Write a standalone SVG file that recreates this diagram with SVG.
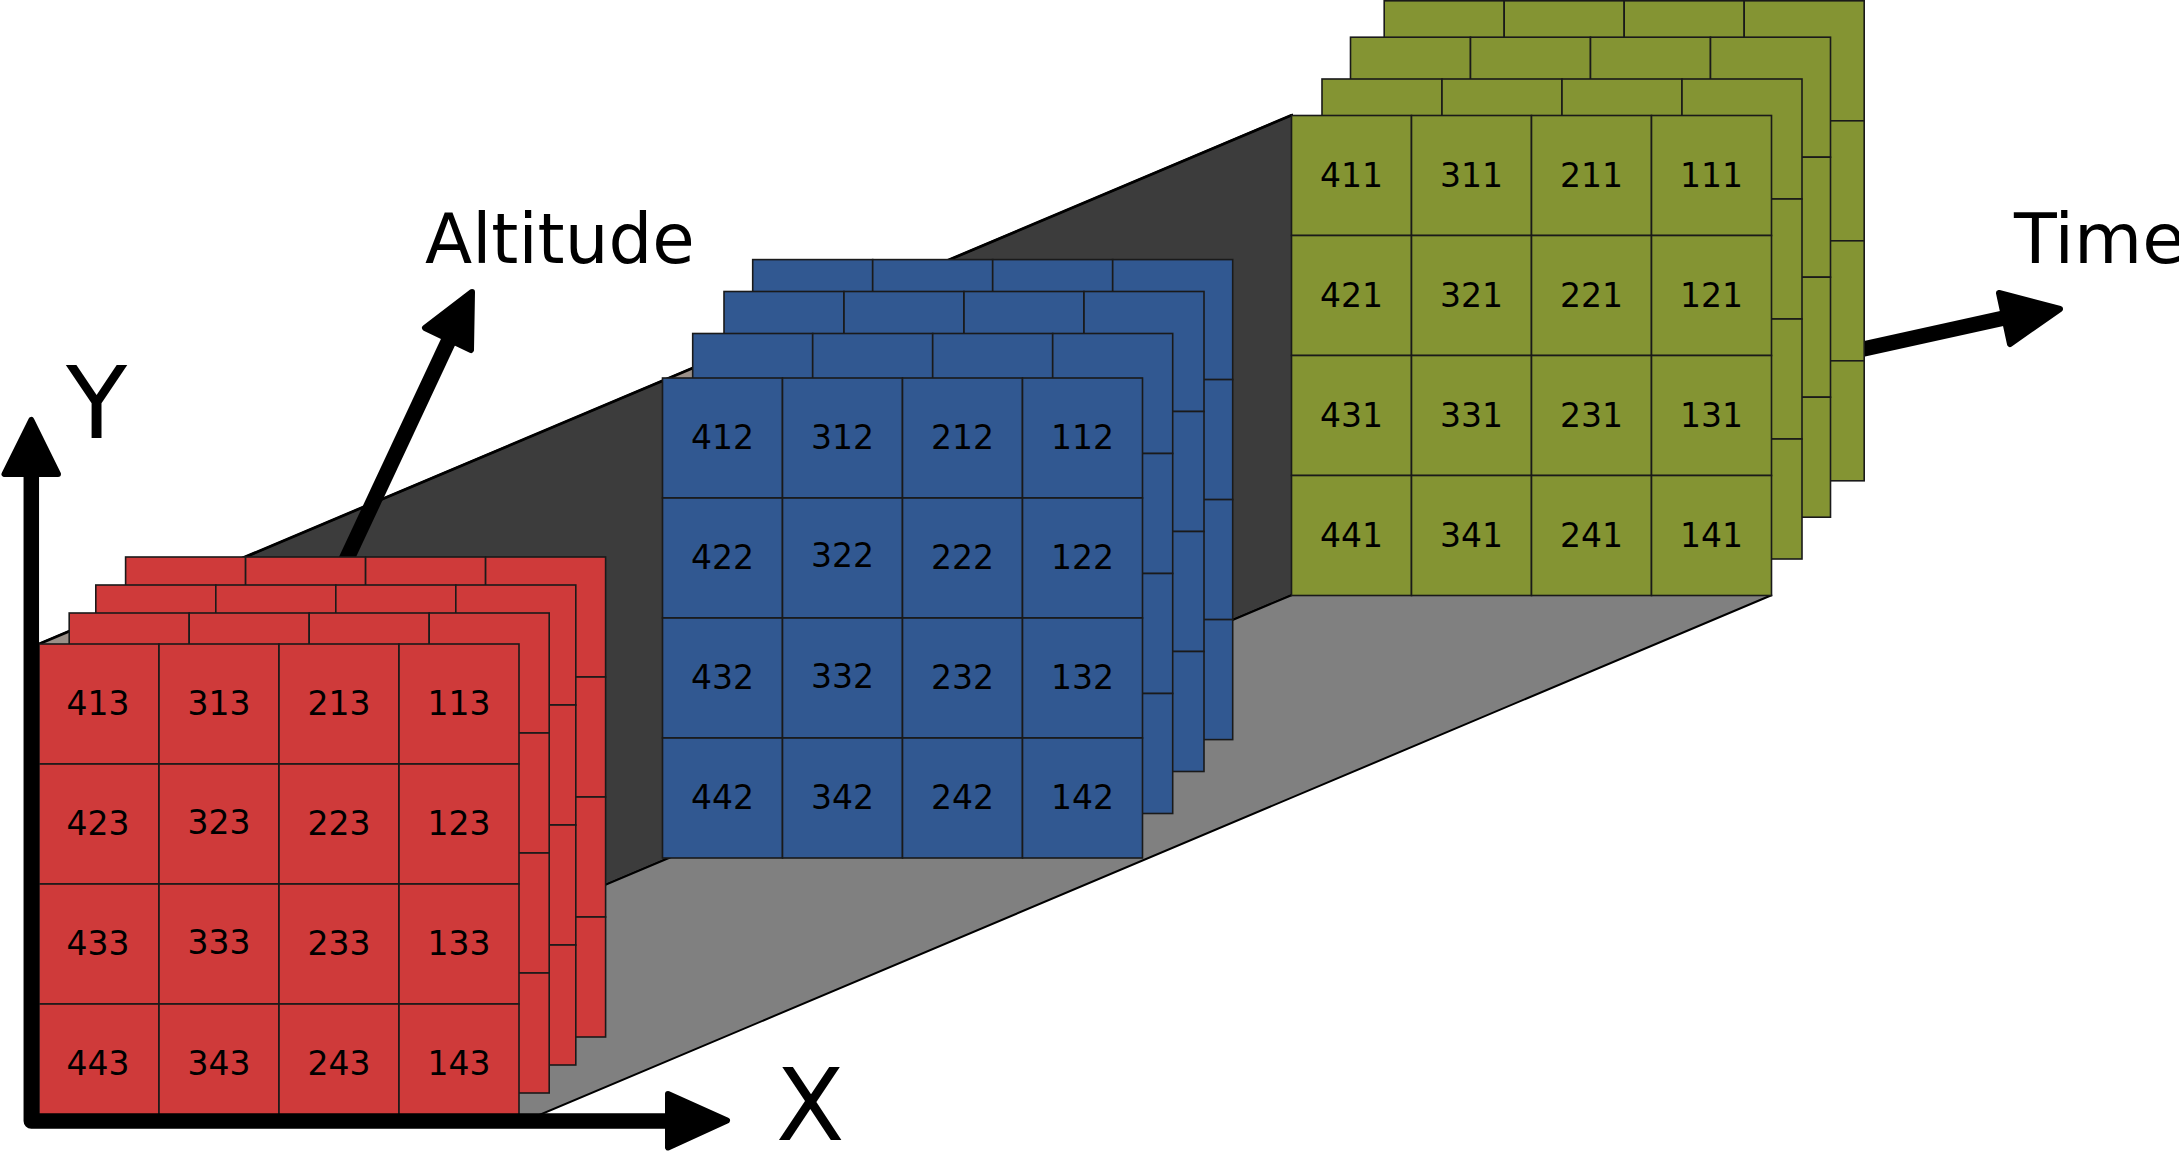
<svg xmlns="http://www.w3.org/2000/svg" xmlns:xlink="http://www.w3.org/1999/xlink" width="2179" height="1152" viewBox="0 0 2179 1152">
  <style>
    .cell { stroke: #1a1a1a; stroke-width: 1.6; }
    .num { font-family: "DejaVu Sans", "Liberation Sans", sans-serif; font-size: 33px; fill: #000; text-anchor: middle; }
    .lbl { font-family: "DejaVu Sans", "Liberation Sans", sans-serif; fill: #000; }
    .shaft { fill: none; stroke: #000; stroke-width: 15.5; stroke-linejoin: round; }
    .head { fill: #000; stroke: #000; stroke-width: 6; stroke-linejoin: round; }
    .red { fill: #cf3a3a; }
    .blue { fill: #315891; }
    .green { fill: #849433; }
  </style>
  <defs>
    <g id="grid">
      <rect class="cell" x="0" y="0" width="120" height="120"/>
      <rect class="cell" x="120" y="0" width="120" height="120"/>
      <rect class="cell" x="240" y="0" width="120" height="120"/>
      <rect class="cell" x="360" y="0" width="120" height="120"/>
      <rect class="cell" x="0" y="120" width="120" height="120"/>
      <rect class="cell" x="120" y="120" width="120" height="120"/>
      <rect class="cell" x="240" y="120" width="120" height="120"/>
      <rect class="cell" x="360" y="120" width="120" height="120"/>
      <rect class="cell" x="0" y="240" width="120" height="120"/>
      <rect class="cell" x="120" y="240" width="120" height="120"/>
      <rect class="cell" x="240" y="240" width="120" height="120"/>
      <rect class="cell" x="360" y="240" width="120" height="120"/>
      <rect class="cell" x="0" y="360" width="120" height="120"/>
      <rect class="cell" x="120" y="360" width="120" height="120"/>
      <rect class="cell" x="240" y="360" width="120" height="120"/>
      <rect class="cell" x="360" y="360" width="120" height="120"/>
    </g>
  </defs>

  <rect x="0" y="0" width="2179" height="1152" fill="#ffffff"/>

  <!-- box: side wall and floor -->
  <g id="box">
    <polygon points="39,644 1292,115 1292,595 39,1124" fill="#3c3c3c" stroke="#000" stroke-width="2"/>
    <polygon points="39,1124 518,1124 1772,595 1292,595" fill="#808080" stroke="#000" stroke-width="2"/>
    <polygon points="39,644 69.2,631.3 69.2,644" fill="#9a9089"/>
    <polygon points="669,378 692.7,368 692.7,378" fill="#9a9089"/>
    <line x1="39" y1="644" x2="1292" y2="115" stroke="#000" stroke-width="2.8"/>
  </g>

  <!-- arrows behind stacks -->
  <g id="connectors-back">
    <g id="altitude-axis">
      <line class="shaft" x1="325" y1="605" x2="449" y2="340"/>
      <polygon class="head" points="472,292 425,328 471,350"/>
    </g>
    <g id="time-axis">
      <line class="shaft" x1="1800" y1="363" x2="2004" y2="318"/>
      <polygon class="head" points="1999,293 2060,309 2010,344"/>
    </g>
  </g>

  <!-- Time step 1 (green) -->
  <g id="stack-t1">
    <use xlink:href="#grid" href="#grid" class="green" transform="translate(1384.2,0.8)"/>
    <use xlink:href="#grid" href="#grid" class="green" transform="translate(1350.5,37.2)"/>
    <use xlink:href="#grid" href="#grid" class="green" transform="translate(1322,79)"/>
    <g id="panel-t1" transform="translate(1291.5,115.5)">
      <use xlink:href="#grid" href="#grid" class="green"/>
      <text class="num" x="60" y="71">411</text>
      <text class="num" x="180" y="71">311</text>
      <text class="num" x="300" y="71">211</text>
      <text class="num" x="420" y="71">111</text>
      <text class="num" x="60" y="191">421</text>
      <text class="num" x="180" y="191">321</text>
      <text class="num" x="300" y="191">221</text>
      <text class="num" x="420" y="191">121</text>
      <text class="num" x="60" y="311">431</text>
      <text class="num" x="180" y="311">331</text>
      <text class="num" x="300" y="311">231</text>
      <text class="num" x="420" y="311">131</text>
      <text class="num" x="60" y="431">441</text>
      <text class="num" x="180" y="431">341</text>
      <text class="num" x="300" y="431">241</text>
      <text class="num" x="420" y="431">141</text>
    </g>
  </g>

  <!-- Time step 2 (blue) -->
  <g id="stack-t2">
    <use xlink:href="#grid" href="#grid" class="blue" transform="translate(752.7,259.6)"/>
    <use xlink:href="#grid" href="#grid" class="blue" transform="translate(724,291.5)"/>
    <use xlink:href="#grid" href="#grid" class="blue" transform="translate(692.7,333.5)"/>
    <g id="panel-t2" transform="translate(662.5,378)">
      <use xlink:href="#grid" href="#grid" class="blue"/>
      <text class="num" x="60" y="71">412</text>
      <text class="num" x="180" y="71">312</text>
      <text class="num" x="300" y="71">212</text>
      <text class="num" x="420" y="71">112</text>
      <text class="num" x="60" y="191">422</text>
      <text class="num" x="180" y="189">322</text>
      <text class="num" x="300" y="191">222</text>
      <text class="num" x="420" y="191">122</text>
      <text class="num" x="60" y="311">432</text>
      <text class="num" x="180" y="310">332</text>
      <text class="num" x="300" y="311">232</text>
      <text class="num" x="420" y="311">132</text>
      <text class="num" x="60" y="431">442</text>
      <text class="num" x="180" y="431">342</text>
      <text class="num" x="300" y="431">242</text>
      <text class="num" x="420" y="431">142</text>
    </g>
  </g>

  <!-- Time step 3 (red) -->
  <g id="stack-t3">
    <use xlink:href="#grid" href="#grid" class="red" transform="translate(125.6,557)"/>
    <use xlink:href="#grid" href="#grid" class="red" transform="translate(95.8,585)"/>
    <use xlink:href="#grid" href="#grid" class="red" transform="translate(69.2,613)"/>
    <g id="panel-t3" transform="translate(39,644)">
      <use xlink:href="#grid" href="#grid" class="red"/>
      <text class="num" x="59" y="71">413</text>
      <text class="num" x="180" y="71">313</text>
      <text class="num" x="300" y="71">213</text>
      <text class="num" x="420" y="71">113</text>
      <text class="num" x="59" y="191">423</text>
      <text class="num" x="180" y="190">323</text>
      <text class="num" x="300" y="191">223</text>
      <text class="num" x="420" y="191">123</text>
      <text class="num" x="59" y="311">433</text>
      <text class="num" x="180" y="310">333</text>
      <text class="num" x="300" y="311">233</text>
      <text class="num" x="420" y="311">133</text>
      <text class="num" x="59" y="431">443</text>
      <text class="num" x="180" y="431">343</text>
      <text class="num" x="300" y="431">243</text>
      <text class="num" x="420" y="431">143</text>
    </g>
  </g>

  <!-- X / Y axes on top -->
  <g id="connectors">
    <polyline class="shaft" points="31.3,474 31.3,1121 668,1121"/>
    <polygon class="head" points="31.3,420 4.5,474 58,474"/>
    <polygon class="head" points="668,1094 727,1120.5 668,1147.5"/>
  </g>

  <!-- labels -->
  <g id="labels">
    <text class="lbl" x="66" y="438" font-size="100">Y</text>
    <text class="lbl" x="776" y="1140" font-size="100">X</text>
    <text class="lbl" x="425" y="263" font-size="69">Altitude</text>
    <text class="lbl" x="2014" y="263" font-size="70">Time</text>
  </g>
</svg>
